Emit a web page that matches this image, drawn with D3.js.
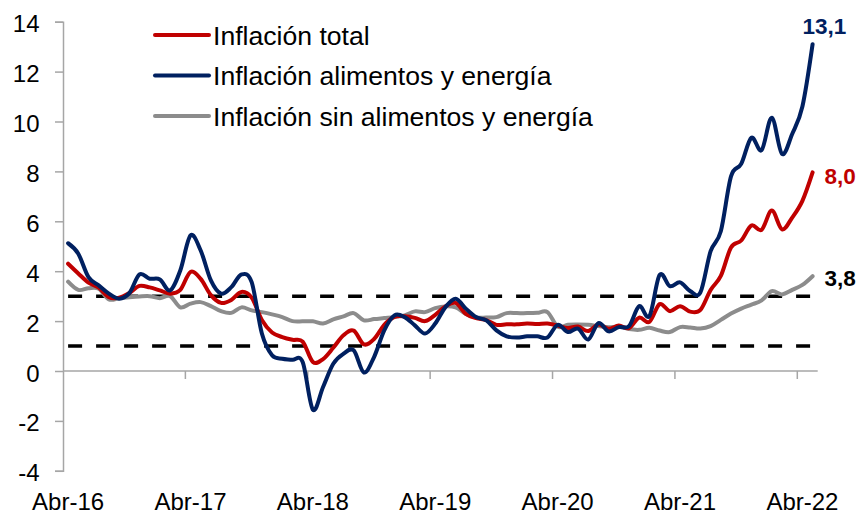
<!DOCTYPE html>
<html>
<head>
<meta charset="utf-8">
<script src="https://cdn.jsdelivr.net/npm/d3@7/dist/d3.min.js"></script>
<style>
  body { margin: 0; background: #fff; }
  svg { display: block; font-family: "Liberation Sans", Arial, sans-serif; }
</style>
</head>
<body>
<div id="chart"></div>
<script>
// meses del eje, desde Abr-16 hasta May-22
var mesesNombres = ["Ene","Feb","Mar","Abr","May","Jun","Jul","Ago","Sep","Oct","Nov","Dic"]
var fechas = []
for (var k = 0; k < 74; k++) {
    var m = (3 + k) % 12
    var a = 16 + Math.floor((3 + k) / 12)
    fechas.push(mesesNombres[m] + "-" + a)
}

var inflTotal = [4.30,3.91,3.54,3.34,2.96,2.94,3.13,3.41,3.35,3.23,
    3.10,3.25,3.97,3.69,3.04,2.73,2.85,3.17,2.94,2.04,1.54,1.36,
    1.25,1.18,0.36,0.48,0.93,1.43,1.62,1.07,1.28,1.85,2.17,2.19,
    2.13,2.00,2.25,2.59,2.73,2.29,2.12,2.04,1.85,1.87,1.87,1.90,
    1.88,1.90,1.82,1.72,1.78,1.60,1.86,1.69,1.82,1.72,2.14,1.97,
    2.68,2.40,2.60,2.38,2.45,3.25,3.81,4.95,5.23,5.83,5.66,6.43,
    5.68,6.15,6.82,7.96]

var inflAlimEnergia = [5.12,4.70,3.76,3.43,3.10,2.90,3.12,3.87,3.70,3.67,
    3.23,4.03,5.43,4.83,3.63,3.10,3.36,3.87,3.56,1.50,0.63,0.49,
    0.45,0.36,-1.55,-0.64,0.29,0.69,0.83,-0.06,0.56,1.63,2.23,2.16,
    1.83,1.50,1.90,2.56,2.90,2.50,2.16,2.03,1.63,1.39,1.34,1.39,
    1.39,1.34,1.85,1.56,1.70,1.26,1.92,1.59,1.76,1.80,2.60,2.20,
    3.85,3.40,3.55,3.20,3.15,4.80,5.60,7.80,8.30,9.35,8.85,10.15,
    8.70,9.50,10.60,13.10]

var inflSinAlimEnergia = [3.58,3.25,3.32,3.30,2.87,2.92,2.96,2.99,3.00,2.92,
    3.00,2.55,2.70,2.76,2.60,2.40,2.33,2.55,2.43,2.36,2.27,2.16,
    2.00,1.99,1.99,1.90,2.07,2.19,2.32,2.03,2.08,2.12,2.16,2.23,
    2.39,2.36,2.52,2.59,2.55,2.29,2.14,2.14,2.16,2.32,2.32,2.32,
    2.33,2.36,1.78,1.85,1.86,1.85,1.80,1.75,1.78,1.68,1.65,1.73,
    1.62,1.56,1.76,1.74,1.70,1.80,2.05,2.30,2.50,2.66,2.83,3.20,
    3.07,3.25,3.45,3.80]

// rango meta del banco central
var rangoMeta = [1, 3]
var yTicks = [-4,-2,0,2,4,6,8,10,12,14]

var series = [
    {nombre: "Inflación total", valores: inflTotal, color: "#c00000", etiqueta: "8,0"},
    {nombre: "Inflación alimentos y energía", valores: inflAlimEnergia, color: "#002060", etiqueta: "13,1"},
    {nombre: "Inflación sin alimentos y energía", valores: inflSinAlimEnergia, color: "#8c8c8c", etiqueta: "3,8"}
]

var w = 863
var h = 514
var svg = d3.select('#chart').append('svg')
    .attr('width', w)
    .attr('height', h)

var x = d3.scaleBand().domain(fechas).range([63, 817.7]).padding(0)
var y = d3.scaleLinear().domain([-4, 14]).range([470.8, 21.7])
var bw = x.bandwidth()
function xc(i) { return x(fechas[i]) + bw / 2 }

var ejeColor = "#a6a6a6"

// eje y
var ejeY = svg.append('g').attr('transform', 'translate(63,0)')
    .call(d3.axisLeft(y).tickValues(yTicks).tickSize(8).tickFormat(d3.format('d')))
ejeY.select('.domain').attr('stroke', ejeColor).attr('stroke-width', 1.5)
ejeY.selectAll('.tick line').attr('stroke', ejeColor).attr('stroke-width', 1.5)
ejeY.selectAll('.tick text')
    .attr('x', -23.5)
    .attr('dy', '0.42em')
    .attr('fill', '#000')
    .style('font-size', '24px')
    .style('font-family', '"Liberation Sans", Arial, sans-serif')
    .text(function(d){ return d < 0 ? '-' + Math.abs(d) : d })

// eje x en cero
svg.append('line')
    .attr('x1', 63).attr('x2', 817.7)
    .attr('y1', y(0)).attr('y2', y(0))
    .attr('stroke', ejeColor).attr('stroke-width', 1.5)

var abriles = fechas.filter(function(d){ return d.indexOf('Abr') === 0 })
svg.selectAll('line.tickX')
    .data(abriles.filter(function(d, i){ return i > 0 }))
    .enter()
    .append('line')
    .attr('class', 'tickX')
    .attr('x1', function(d){ return x(d) })
    .attr('x2', function(d){ return x(d) })
    .attr('y1', y(0))
    .attr('y2', y(0) + 8)
    .attr('stroke', ejeColor).attr('stroke-width', 1.5)

svg.selectAll('text.labX')
    .data(abriles)
    .enter()
    .append('text')
    .attr('class', 'labX')
    .attr('x', function(d){ return x(d) + bw / 2 })
    .attr('y', 510)
    .attr('text-anchor', 'middle')
    .style('font-size', '24px')
    .text(function(d){ return d })

// rango meta
svg.selectAll('line.meta')
    .data(rangoMeta)
    .enter()
    .append('line')
    .attr('class', 'meta')
    .attr('x1', xc(0))
    .attr('x2', xc(fechas.length - 1))
    .attr('y1', function(d){ return y(d) })
    .attr('y2', function(d){ return y(d) })
    .attr('stroke', '#000')
    .attr('stroke-width', 3.5)
    .attr('stroke-dasharray', '14,14')

var linea = d3.line()
    .x(function(d, i){ return xc(i) })
    .y(function(d){ return y(d) })
    .curve(d3.curveCardinal.tension(0))

// gris primero, luego roja y azul encima
var orden = [series[2], series[0], series[1]]
svg.selectAll('path.serie')
    .data(orden)
    .enter()
    .append('path')
    .attr('class', 'serie')
    .attr('d', function(d){ return linea(d.valores) })
    .attr('fill', 'none')
    .attr('stroke', function(d){ return d.color })
    .attr('stroke-width', 4)
    .attr('stroke-linejoin', 'round')
    .attr('stroke-linecap', 'round')

// etiquetas del ultimo dato
var ult = fechas.length - 1
var etiq = [
    {s: series[1], dx: -10, dy: -10},
    {s: series[0], dx: 12, dy: 12},
    {s: series[2], dx: 12, dy: 10}
]
svg.selectAll('text.ult')
    .data(etiq)
    .enter()
    .append('text')
    .attr('class', 'ult')
    .attr('x', function(d){ return xc(ult) + d.dx })
    .attr('y', function(d){ return y(d.s.valores[ult]) + d.dy })
    .attr('fill', function(d){ return d.s.color === "#8c8c8c" ? "#000" : d.s.color })
    .style('font-size', '22.5px')
    .style('font-weight', 'bold')
    .text(function(d){ return d.s.etiqueta })

// leyenda
var ley = svg.selectAll('g.ley')
    .data(series)
    .enter()
    .append('g')
    .attr('class', 'ley')
    .attr('transform', function(d, i){ return 'translate(155,' + (35 + i * 40.5) + ')' })
ley.append('line')
    .attr('x1', 0).attr('x2', 54)
    .attr('stroke', function(d){ return d.color })
    .attr('stroke-width', 4)
    .attr('stroke-linecap', 'round')
ley.append('text')
    .attr('x', 58)
    .attr('dy', '0.36em')
    .style('font-size', '26.6px')
    .text(function(d){ return d.nombre })
</script>
</body>
</html>
